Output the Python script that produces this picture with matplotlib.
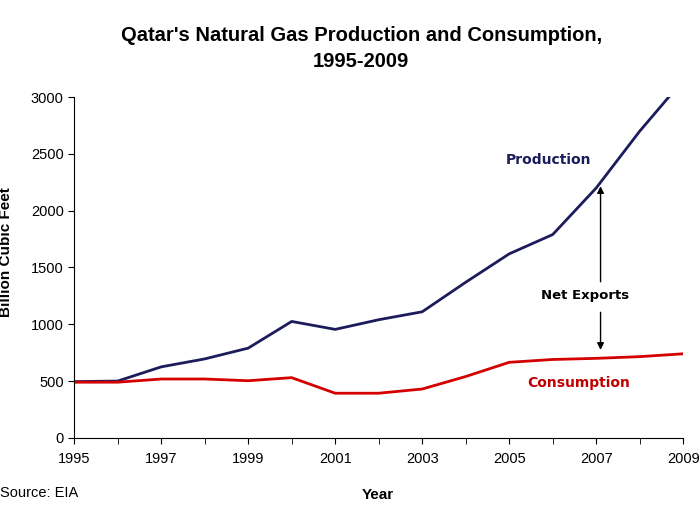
import matplotlib.pyplot as plt

plt.rcParams['font.family'] = ['Liberation Sans', 'DejaVu Sans']

years = list(range(1995, 2010))
production = [495, 500, 625, 695, 790, 1025, 955, 1040, 1110, 1370, 1620, 1790, 2200, 2700, 3150]
consumption = [490, 490, 518, 518, 503, 530, 393, 393, 430, 540, 665, 690, 700, 715, 740]
tick_years = list(range(1995, 2010, 2))

fig = plt.figure(figsize=(7, 5.25), dpi=100)
ax = fig.add_axes([0.106, 0.166, 0.87, 0.649])

ax.plot(years, production, color='#1c1c5c', lw=2)
ax.plot(years, consumption, color='#d40000', lw=2)

ax.set_xlim(1995, 2009)
ax.set_ylim(0, 3000)
ax.set_xticks(tick_years)
ax.set_xticks(years, minor=True)
ax.set_yticks(range(0, 3001, 500))
ax.tick_params(axis='both', which='both', direction='out', labelsize=10.5, length=4)
ax.tick_params(axis='x', pad=6)
for s in ['top', 'right']:
    ax.spines[s].set_visible(False)

# labels and notes
note_font = ['DejaVu Sans']
ax.text(2005.9, 2450, 'Production', color='#1c1c5c', fontsize=10, fontweight='bold',
        ha='center', va='center', family=note_font)
ax.text(2006.75, 1250, 'Net Exports', color='black', fontsize=9.5, fontweight='bold',
        ha='center', va='center', family=note_font)
ax.text(2006.6, 480, 'Consumption', color='#c00000', fontsize=10, fontweight='bold',
        ha='center', va='center', family=note_font)
ax.annotate('', xy=(2007.1, 2240), xytext=(2007.1, 1350),
            arrowprops=dict(arrowstyle='-|>', color='black', lw=1, mutation_scale=10))
ax.annotate('', xy=(2007.1, 750), xytext=(2007.1, 1130),
            arrowprops=dict(arrowstyle='-|>', color='black', lw=1, mutation_scale=10))

fig.text(0.516, 0.907, "Qatar's Natural Gas Production and Consumption,\n1995-2009",
         ha='center', va='center', fontsize=14.5, fontweight='bold', linespacing=1.45)
fig.text(0.54, 0.057, 'Year', ha='center', va='center', fontsize=11, fontweight='bold')
fig.text(0.0, 0.061, 'Source: EIA', ha='left', va='center', fontsize=10.5)
fig.text(0.008, 0.52, 'Billion Cubic Feet', rotation=90, ha='center', va='center',
         fontsize=11, fontweight='bold')

fig.savefig('out.png', dpi=100)
